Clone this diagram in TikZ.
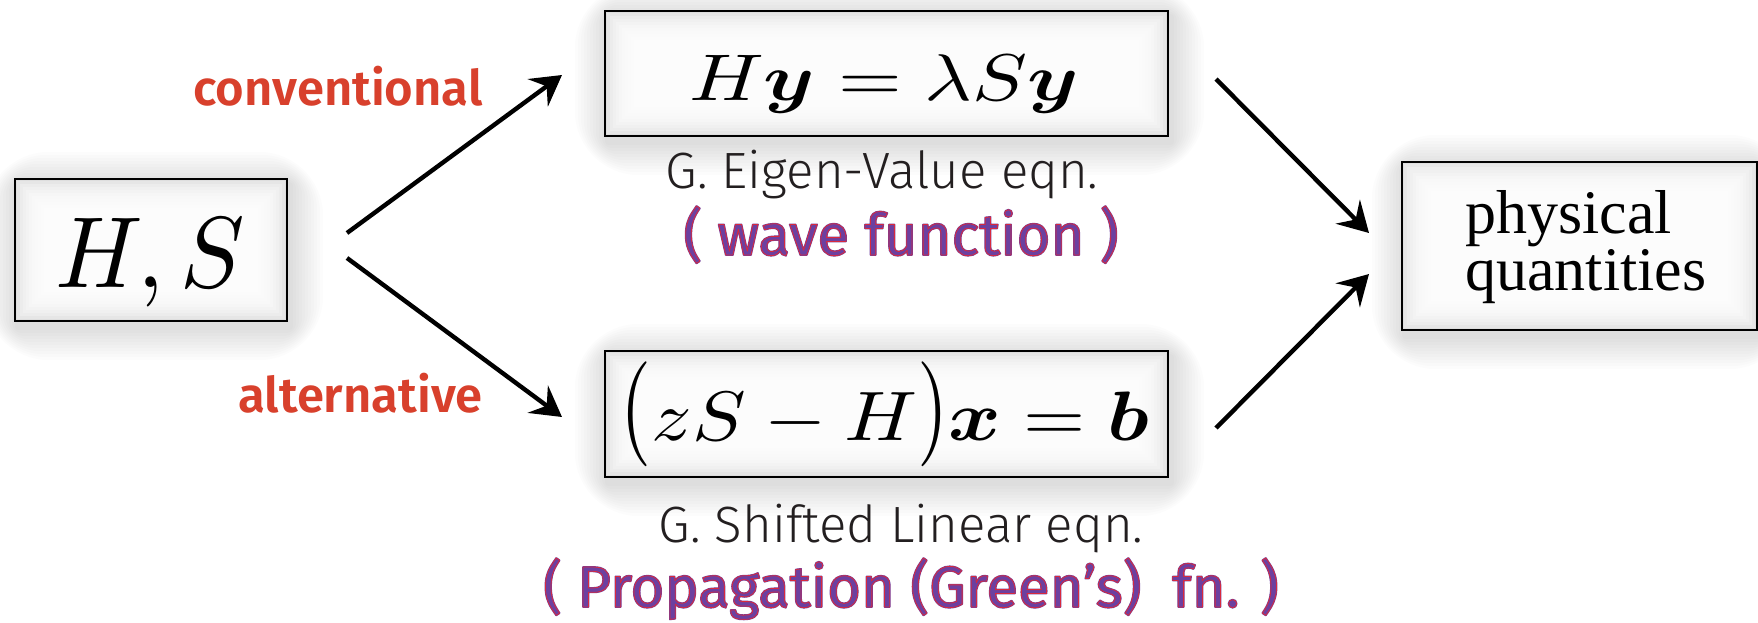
\documentclass[tikz,border=0pt]{standalone}
\usepackage{fontspec}
\usepackage{amsmath}
\usepackage{graphicx}
\usetikzlibrary{arrows.meta}
\newfontfamily\lightsf{Fira Sans Light}
\newfontfamily\semisf{Fira Sans SemiBold}
\newfontfamily\regsf{Fira Sans}
\newfontfamily\serifq{Liberation Serif}
\definecolor{redlab}{RGB}{216,64,44}
\definecolor{purp}{RGB}{108,64,160}
\definecolor{darktxt}{RGB}{35,31,32}
\newcommand\purpfill[1]{\special{pdf:literal direct 0.424 0.251 0.627 RG 0.9 w 1 j 2 Tr}#1\special{pdf:literal direct 0 Tr}}
\newcommand\redline[1]{\special{pdf:literal direct 0.85 0.16 0.24 RG 0.4 w 1 j 1 Tr}#1\special{pdf:literal direct 0 Tr}}
\newcommand\tallp[1]{\scalebox{1}[1.5]{$#1$}}
\pgfdeclarelayer{bg}
\pgfsetlayers{bg,main}
\begin{document}
\begin{tikzpicture}[x=0.5pt,y=-0.5pt,
  frame/.style={draw=black,line width=1.1pt,inner sep=0pt},
  arr/.style={line width=2.2pt,-{Stealth[length=15pt,width=17pt,inset=5.5pt]}},
  eqtext/.style={anchor=base,inner sep=0pt,text=black},
  graytxt/.style={anchor=base,inner sep=0pt,text=darktxt,font=\lightsf\fontsize{25.5}{30}\selectfont},
  purptxt/.style={anchor=base,inner sep=0pt,text=purp,font=\regsf\fontsize{29}{32}\selectfont},
  redtxt/.style={anchor=base east,inner sep=0pt,text=redlab,font=\semisf\fontsize{24.5}{28}\selectfont},
  phystxt/.style={anchor=base west,inner sep=0pt,text=black,font=\serifq\fontsize{31}{36}\selectfont}
]
\useasboundingbox (0,0) rectangle (1758,622);

% boxes
\node[frame,minimum width=136pt,minimum height=71pt] (hs) at (151,250) {};
\node[frame,minimum width=281.5pt,minimum height=62.5pt] (eig) at (886.5,73.5) {};
\node[frame,minimum width=281.5pt,minimum height=63pt] (lin) at (886.5,414) {};
\node[frame,minimum width=177.5pt,minimum height=84pt] (phys) at (1579.5,246) {};

\begin{pgfonlayer}{bg}
\fill[white] (0,0) rectangle (1758,622);
\foreach \n in {hs,eig,lin,phys}{
  \foreach \r in {2,5,...,32}{
    \fill[black,opacity=0.011,rounded corners=\r pt] ([shift={({-\r+3},{-\r+6})}]\n.north west) rectangle ([shift={({\r+3},{\r+6})}]\n.south east);
  }
  \fill[black!13] (\n.north west) rectangle (\n.south east);
  \foreach \r in {3,6,...,30}{
    \fill[white,opacity=0.25] ([shift={(\r,\r)}]\n.north west) rectangle ([shift={(-\r,-\r)}]\n.south east);
  }
}
\end{pgfonlayer}

% equations
\node[eqtext] (hsT) at (150,287) {\scalebox{4.8}[5.05]{$H,S$}};
\node[eqtext] (eigT) at (884,100) {\scalebox{4.1}[3.3]{$H\boldsymbol{y}=\lambda S\boldsymbol{y}$}};
\node[eqtext] (linT) at (885,440) {\scalebox{4.0}[3.5]{$\tallp{(}zS-H\tallp{)}\boldsymbol{x}=\boldsymbol{b}$}};

% captions
\node[graytxt] (eigL) at (882,188) {G. Eigen-Value eqn.};
\node[graytxt] (linL) at (901,542) {G. Shifted Linear eqn.};
\node[purptxt] (waveA) at (901,255) {\purpfill{( wave function )}};
\node[purptxt] (waveB) at (901,255) {\redline{( wave function )}};
\node[purptxt] (propA) at (911,607) {\purpfill{( Propagation (Green’s)\ \ fn. )}};
\node[purptxt] (propB) at (911,607) {\redline{( Propagation (Green’s)\ \ fn. )}};

% labels
\node[redtxt] (conv) at (483,105) {conventional};
\node[redtxt] (alt) at (483,412) {alternative};

\node[phystxt] (physA) at (1465,233) {physical};
\node[phystxt] (physB) at (1465,290) {quantities};

% arrows
\coordinate (u1) at (347,233); \coordinate (u2) at (562,75);
\coordinate (d1) at (347,258); \coordinate (d2) at (562,417);
\coordinate (r1) at (1216,79); \coordinate (r2) at (1369,233);
\coordinate (s1) at (1216,428); \coordinate (s2) at (1369,274);
\draw[arr] (u1) -- (u2);
\draw[arr] (d1) -- (d2);
\draw[arr] (r1) -- (r2);
\draw[arr] (s1) -- (s2);
\end{tikzpicture}
\end{document}
